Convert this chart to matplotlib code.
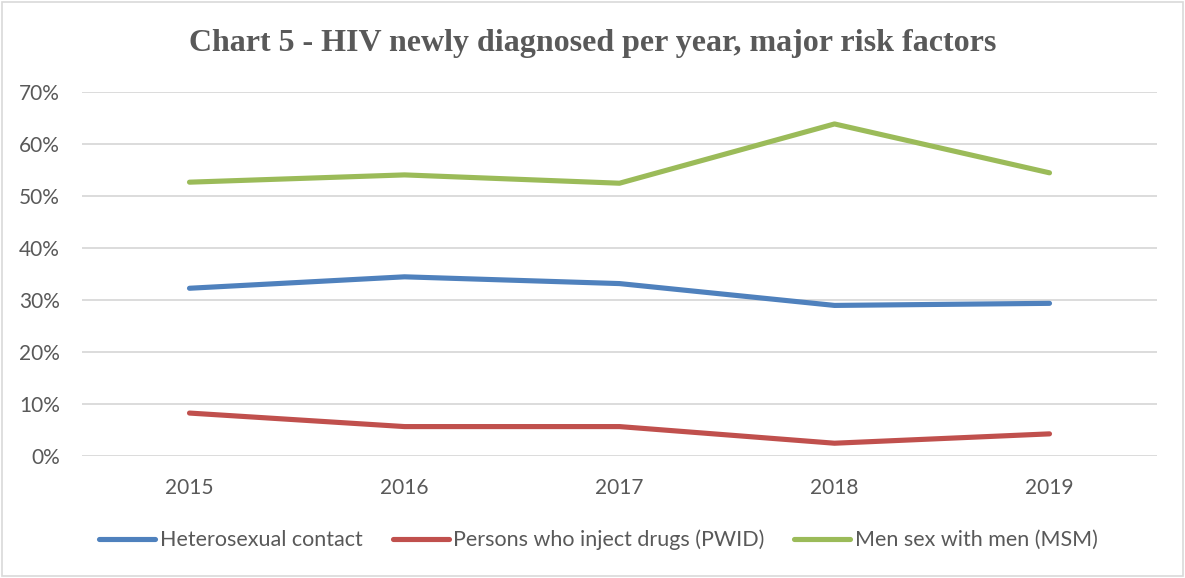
import matplotlib
matplotlib.use("Agg")
import matplotlib.pyplot as plt
from matplotlib.patches import Rectangle
from matplotlib.ticker import PercentFormatter

years = ["2015", "2016", "2017", "2018", "2019"]
heterosexual = [32.2, 34.4, 33.1, 28.9, 29.3]
pwid = [8.2, 5.6, 5.6, 2.4, 4.2]
msm = [52.6, 54.0, 52.4, 63.8, 54.4]

series_names = ["Heterosexual contact", "Persons who inject drugs (PWID)", "Men sex with men (MSM)"]
series_colors = ["#4F81BD", "#C0504D", "#9BBB59"]
text_color = "#595959"

fig = plt.figure(figsize=(11.85, 5.78), dpi=100)
ax = fig.add_axes([82 / 1185, 1 - 455.7 / 578, 1075 / 1185, 364 / 578])

x = range(len(years))
for vals, name, col in zip([heterosexual, pwid, msm], series_names, series_colors):
    ax.plot(x, [v / 100 for v in vals], color=col, linewidth=3.7,
            solid_capstyle="round", solid_joinstyle="round", label=name)

ax.set_xlim(-0.5, len(years) - 0.5)
ax.set_ylim(0, 0.7)
ax.set_yticks([i / 10 for i in range(8)])
ax.yaxis.set_major_formatter(PercentFormatter(1.0, decimals=0))
ax.set_xticks(list(x))
ax.set_xticklabels(years)
ax.grid(axis="y", color="#D9D9D9", linewidth=1.3)
ax.set_axisbelow(True)
for s in ax.spines.values():
    s.set_visible(False)
ax.tick_params(axis="both", length=0, labelsize=15, labelcolor=text_color)
ax.tick_params(axis="x", pad=16)
ax.tick_params(axis="y", pad=16)
for lbl in ax.get_xticklabels() + ax.get_yticklabels():
    lbl.set_fontfamily("Lato")

fig.text(0.5, 1 - 43 / 578, "Chart 5 - HIV newly diagnosed per year, major risk factors",
         ha="center", va="center", fontsize=23, fontweight="bold",
         family="Liberation Serif", color=text_color)

leg = fig.legend(loc="center", bbox_to_anchor=(0.505, 1 - 540 / 578), ncol=3,
                 frameon=False, handlelength=2.6, handletextpad=0.2, columnspacing=1.4,
                 prop={"family": "Lato", "size": 15.5})
for t in leg.get_texts():
    t.set_color(text_color)

fig.patches.append(Rectangle((0.002, 0.003), 0.996, 0.994, transform=fig.transFigure,
                             fill=False, edgecolor="#D9D9D9", linewidth=1.2))

fig.savefig("out.png", dpi=100, facecolor="white")
